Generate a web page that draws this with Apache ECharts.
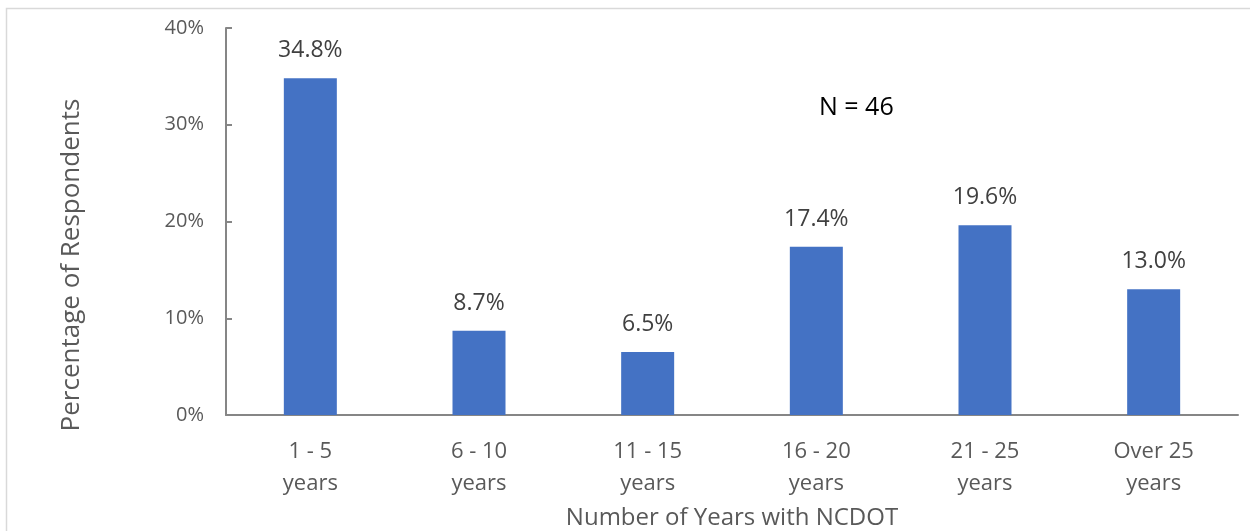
<!DOCTYPE html>
<html>
<head>
<meta charset="utf-8">
<script src="https://cdn.jsdelivr.net/npm/echarts@6/dist/echarts.min.js"></script>
<style>
  html, body { margin: 0; padding: 0; background: #fff; }
  #chart { width: 1250px; height: 531px; }
</style>
</head>
<body>
<div id="chart"></div>
<script>
// categories and values
var categories = ['1 - 5\nyears', '6 - 10\nyears', '11 - 15\nyears', '16 - 20\nyears', '21 - 25\nyears', 'Over 25\nyears'];
var percents = [34.8, 8.7, 6.5, 17.4, 19.6, 13.0];
var yTicks = [0, 10, 20, 30, 40];
var noteText = 'N = 46';
var yTitle = 'Percentage of Respondents';

var font = '"Open Sans", "Noto Sans", sans-serif';
var myChart = echarts.init(document.getElementById('chart'));

option = {
    animation: false,
    textStyle: { fontFamily: font },
    graphic: [
        {
            type: 'rect',
            shape: { x: 6.5, y: 8.5, width: 1260, height: 540 },
            style: { fill: 'none', stroke: '#d9d9d9', lineWidth: 1.5 },
            silent: true
        },
        {
            type: 'text',
            left: 819, top: 95,
            style: { text: noteText, fontSize: 25, fill: '#000', fontFamily: font }
        },
        {
            // y title sits lower than the plot middle, so placed by hand
            type: 'text',
            x: 72, y: 265,
            rotation: Math.PI / 2,
            style: {
                text: yTitle, fontSize: 26, fill: '#595959', fontFamily: font,
                textAlign: 'center', textVerticalAlign: 'middle'
            }
        }
    ],
    grid: { left: 226, right: 12, top: 28, bottom: 116, outerBoundsMode: 'none', containLabel: false },
    xAxis: {
        type: 'category',
        data: categories,
        name: 'Number of Years with NCDOT',
        nameLocation: 'middle',
        nameGap: 91,
        nameTextStyle: { fontSize: 24, color: '#595959', fontFamily: font },
        axisLine: { lineStyle: { color: '#868686', width: 2 } },
        axisTick: { show: false },
        axisLabel: { fontSize: 22, color: '#595959', lineHeight: 32, margin: 21, fontFamily: font }
    },
    yAxis: {
        type: 'value',
        min: yTicks[0],
        max: yTicks[yTicks.length - 1],
        interval: 10,
        axisLine: { show: true, lineStyle: { color: '#868686', width: 2 } },
        axisTick: { show: true, inside: true, length: 6, lineStyle: { color: '#868686', width: 2 } },
        splitLine: { show: false },
        axisLabel: { fontSize: 20, color: '#595959', margin: 22, formatter: '{value}%', fontFamily: font }
    },
    series: [
        {
            type: 'bar',
            data: percents,
            barWidth: 53,
            itemStyle: { color: '#4472c4' },
            label: {
                show: true,
                position: 'top',
                distance: 16,
                fontSize: 23,
                color: '#404040',
                fontFamily: font,
                formatter: function (p) { return p.value.toFixed(1) + '%'; }
            }
        }
    ]
};
myChart.setOption(option);
</script>
</body>
</html>
